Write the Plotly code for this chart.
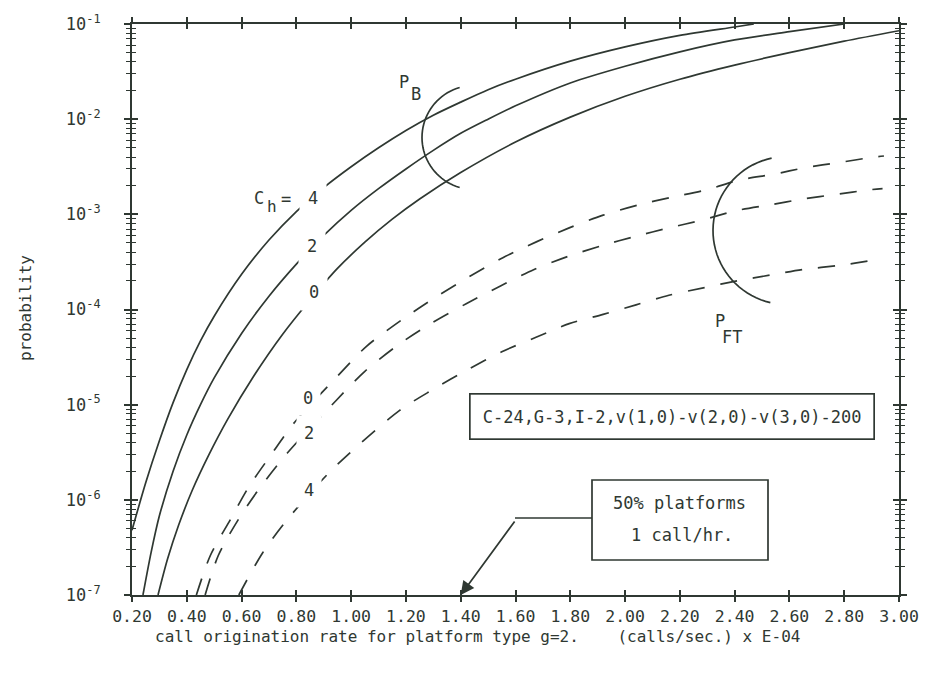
import math
import plotly.graph_objects as go

# ---------------- data ----------------
# Blocking probability P_B (solid), by C_h
pb4_x = [0.20, 0.25, 0.30, 0.35, 0.40, 0.45, 0.50, 0.60, 0.70, 0.80, 0.90, 1.00, 1.10, 1.20,
         1.30, 1.40, 1.50, 1.60, 1.80, 2.00, 2.20, 2.40, 2.47]
pb4_y = [4.8e-7, 1.51e-6, 4.17e-6, 1.05e-5, 2.34e-5, 4.68e-5, 8.5e-5, 2.34e-4, 5.37e-4, 1.07e-3,
         1.91e-3, 3.16e-3, 5.0e-3, 7.6e-3, 1.10e-2, 1.51e-2, 2.04e-2, 2.63e-2, 4.07e-2, 5.75e-2,
         7.6e-2, 9.3e-2, 1.0e-1]

pb2_x = [0.24, 0.27, 0.30, 0.35, 0.40, 0.45, 0.50, 0.60, 0.70, 0.80, 0.90, 1.00, 1.10, 1.20,
         1.30, 1.40, 1.50, 1.60, 1.80, 2.00, 2.20, 2.40, 2.60, 2.80]
pb2_y = [1.0e-7, 2.82e-7, 6.8e-7, 2.0e-6, 4.8e-6, 1.0e-5, 1.91e-5, 5.6e-5, 1.38e-4, 3.0e-4,
         6.0e-4, 1.10e-3, 1.86e-3, 3.0e-3, 4.7e-3, 7.1e-3, 1.0e-2, 1.38e-2, 2.4e-2, 3.6e-2,
         5.1e-2, 6.8e-2, 8.3e-2, 1.0e-1]

pb0_x = [0.295, 0.33, 0.37, 0.42, 0.48, 0.55, 0.64, 0.75, 0.85, 0.95, 1.05, 1.15, 1.25, 1.40,
         1.60, 1.80, 2.00, 2.20, 2.40, 2.60, 2.80, 3.00]
pb0_y = [1.0e-7, 2.4e-7, 5.4e-7, 1.26e-6, 2.95e-6, 7.1e-6, 1.91e-5, 5.5e-5, 1.26e-4, 2.7e-4,
         5.1e-4, 8.9e-4, 1.45e-3, 2.75e-3, 5.75e-3, 1.05e-2, 1.74e-2, 2.63e-2, 3.7e-2, 5.0e-2,
         6.6e-2, 8.5e-2]

# Forced termination probability P_FT (dashed), by C_h
pft0_x = [0.435, 0.486, 0.559, 0.625, 0.712, 0.793, 0.947, 1.056, 1.185, 1.309, 1.43, 1.554, 1.68,
          1.796, 1.92, 2.05, 2.17, 2.30, 2.42, 2.54, 2.66, 2.78, 2.91, 2.945]
pft0_y = [1.0e-7, 2.6e-7, 6.2e-7, 1.35e-6, 3.1e-6, 6.5e-6, 1.95e-5, 4.1e-5, 7.8e-5, 1.35e-4,
          2.2e-4, 3.5e-4, 5.2e-4, 7.2e-4, 9.8e-4, 1.26e-3, 1.51e-3, 1.82e-3, 2.3e-3, 2.63e-3,
          3.1e-3, 3.5e-3, 4.0e-3, 4.1e-3]

pft2_x = [0.467, 0.515, 0.588, 0.668, 0.767, 0.947, 1.05, 1.174, 1.294, 1.42, 1.547, 1.668, 1.79,
          1.917, 2.04, 2.16, 2.28, 2.41, 2.53, 2.65, 2.77, 2.90, 2.94]
pft2_y = [1.0e-7, 2.6e-7, 6.2e-7, 1.35e-6, 3.1e-6, 1.12e-5, 2.24e-5, 4.3e-5, 7.2e-5, 1.15e-4,
          1.78e-4, 2.63e-4, 3.6e-4, 4.7e-4, 5.9e-4, 7.2e-4, 8.7e-4, 1.1e-3, 1.26e-3, 1.45e-3,
          1.62e-3, 1.82e-3, 1.86e-3]

pft4_x = [0.59, 0.676, 0.767, 0.935, 1.177, 1.30, 1.426, 1.55, 1.675, 1.796, 1.92, 2.04, 2.16,
          2.29, 2.41, 2.53, 2.65, 2.78, 2.91, 2.94]
pft4_y = [1.0e-7, 2.75e-7, 6.2e-7, 2.14e-6, 8.7e-6, 1.45e-5, 2.34e-5, 3.6e-5, 5.1e-5, 7.1e-5,
          8.9e-5, 1.12e-4, 1.41e-4, 1.7e-4, 2.0e-4, 2.3e-4, 2.63e-4, 2.9e-4, 3.3e-4, 3.4e-4]

x_ticks = [0.2, 0.4, 0.6, 0.8, 1.0, 1.2, 1.4, 1.6, 1.8, 2.0, 2.2, 2.4, 2.6, 2.8, 3.0]
x_ticktext = ["0.20", "0.40", "0.60", "0.80", "1.00", "1.20", "1.40", "1.60", "1.80",
              "2.00", "2.20", "2.40", "2.60", "2.80", "3.00"]
y_ticks = [1e-7, 1e-6, 1e-5, 1e-4, 1e-3, 1e-2, 1e-1]
y_ticktext = ["10<sup>-7</sup>", "10<sup>-6</sup>", "10<sup>-5</sup>", "10<sup>-4</sup>",
              "10<sup>-3</sup>", "10<sup>-2</sup>", "10<sup>-1</sup>"]
y_minor = [m * 10.0 ** e for e in range(-7, -1) for m in range(2, 10)]

# ---------------- styling ----------------
INK = "#2f3832"
FONT = "DejaVu Sans Mono"
OFF = 8                      # page body margin of the browser
W, H = 927 - OFF, 680 - OFF
ML, MT = 132 - OFF, 24 - OFF
MR = W - (899 - OFF)
MB = H - (595 - OFF)
PW, PH = W - ML - MR, H - MT - MB


def P(px, py):
    """window pixel position -> paper coordinates"""
    return (px - OFF - ML) / PW, (H - MB - (py - OFF)) / PH


def arc(cx, cy, r, a0, a1, n=40):
    pts = []
    for i in range(n + 1):
        a = math.radians(a0 + (a1 - a0) * i / n)
        pts.append(P(cx + r * math.cos(a), cy + r * math.sin(a)))
    return "M " + " L ".join(f"{x:.5f},{y:.5f}" for x, y in pts)


fig = go.Figure()
line_solid = dict(color=INK, width=1.7, shape="spline", smoothing=0.8)
line_dash = dict(color=INK, width=1.7, dash="17px,16px", shape="spline", smoothing=0.8)
for xs, ys in [(pb4_x, pb4_y), (pb2_x, pb2_y), (pb0_x, pb0_y)]:
    fig.add_trace(go.Scatter(x=xs, y=ys, mode="lines", line=line_solid, hoverinfo="skip"))
for xs, ys in [(pft0_x, pft0_y), (pft2_x, pft2_y), (pft4_x, pft4_y)]:
    fig.add_trace(go.Scatter(x=xs, y=ys, mode="lines", line=line_dash, hoverinfo="skip"))
# invisible trace to carry the overlay axes (inner halves of crossing ticks)
fig.add_trace(go.Scatter(x=[None], y=[None], xaxis="x2", yaxis="y2",
                         mode="lines", hoverinfo="skip"))

common_axis = dict(showgrid=False, zeroline=False, showline=True, linecolor=INK,
                   linewidth=2, tickcolor=INK, tickwidth=1.5, automargin=False)

fig.update_layout(
    width=W, height=H, showlegend=False,
    paper_bgcolor="white", plot_bgcolor="white",
    margin=dict(l=ML, r=MR, t=MT, b=MB, autoexpand=False),
    font=dict(family=FONT, color=INK, size=17),
    xaxis=dict(range=[0.2, 3.0], tickmode="array", tickvals=x_ticks, ticktext=x_ticktext,
               ticks="outside", ticklen=5, mirror="ticks",
               tickfont=dict(family=FONT, size=16.5, color=INK), **common_axis),
    yaxis=dict(type="log", range=[-7, -1], tickmode="array", tickvals=y_ticks,
               ticktext=y_ticktext, ticks="outside", ticklen=6, mirror="ticks",
               ticklabelstandoff=20,
               minor=dict(tickmode="array", tickvals=y_minor, ticks="outside",
                          ticklen=4, tickcolor=INK, tickwidth=1.2, showgrid=False),
               tickfont=dict(family=FONT, size=17, color=INK), **common_axis),
    xaxis2=dict(overlaying="x", matches="x", anchor="y", range=[0.2, 3.0],
                tickmode="array", tickvals=x_ticks, ticks="inside", ticklen=5,
                mirror="ticks", showticklabels=False, **common_axis),
    yaxis2=dict(overlaying="y", matches="y", anchor="x", type="log", range=[-7, -1],
                tickmode="array", tickvals=y_ticks, ticks="inside", ticklen=6,
                mirror="ticks", showticklabels=False,
                minor=dict(tickmode="array", tickvals=y_minor, ticks="inside",
                           ticklen=4, tickcolor=INK, tickwidth=1.2, showgrid=False),
                **common_axis),
)

shapes = []
# bracket arcs
shapes.append(dict(type="path", xref="paper", yref="paper",
                   path=arc(474, 137.5, 52, 254, 106), line=dict(color=INK, width=1.7)))
shapes.append(dict(type="path", xref="paper", yref="paper",
                   path=arc(787, 230.5, 74, 258, 103), line=dict(color=INK, width=1.7)))
# box around "50% platforms / 1 call/hr."
bx0, by0 = P(592, 480)
bx1, by1 = P(768, 560)
shapes.append(dict(type="rect", xref="paper", yref="paper", x0=bx0, y0=by0, x1=bx1, y1=by1,
                   line=dict(color=INK, width=1.7), fillcolor="white"))
# horizontal leg of arrow
lx0, ly = P(592, 518)
lx1, _ = P(515, 518)
shapes.append(dict(type="line", xref="paper", yref="paper", x0=lx0, y0=ly, x1=lx1, y1=ly,
                   line=dict(color=INK, width=1.7)))
fig.update_layout(shapes=shapes)

ann = []


def text(px, py, s, size=17, bg=None, pad=1, xanchor="center", border=None, bw=0, angle=0):
    x, y = P(px, py)
    d = dict(x=x, y=y, xref="paper", yref="paper", text=s, showarrow=False,
             xanchor=xanchor, yanchor="middle", textangle=angle,
             font=dict(family=FONT, size=size, color=INK), borderpad=pad)
    if bg:
        d["bgcolor"] = bg
    if border:
        d["bordercolor"] = border
        d["borderwidth"] = bw
    ann.append(d)


# curve labels (white background opens a gap in the curve)
text(259, 198, "C", size=17)
text(272, 206, "h", size=16)
text(286, 199, "=", size=17)
text(313, 198, "4", bg="white", pad=8)
text(312, 246, "2", bg="white", pad=8)
text(314, 292, "0", bg="white", pad=8)
text(308, 398, "0", bg="white", pad=7)
text(309, 433, "2", bg="white", pad=7)
text(309, 490, "4", bg="white", pad=7)
# curve-family labels
text(404, 82, "P", size=17)
text(416, 94, "B", size=17)
text(720, 321, "P", size=17)
text(732, 337, "FT", size=17)
# parameter box
text(672, 417, "C-24,G-3,I-2,v(1,0)-v(2,0)-v(3,0)-200", size=17, bg="white",
     pad=12, border=INK, bw=1.7)
text(679, 503, "50% platforms", size=17)
text(682, 535, "1 call/hr.", size=17)
# axis titles
text(477, 636, "call origination rate for platform type g=2.\u00a0\u00a0\u00a0\u00a0(calls/sec.) x E-04",
     size=16)
text(25, 308, "probability", size=16, angle=-90)
# arrow to x = 1.40
ann.append(dict(x=1.40, y=-7, xref="x", yref="y", text="", showarrow=True,
                ax=55, ay=-75, arrowhead=2, arrowsize=1.6, arrowwidth=1.7,
                arrowcolor=INK, standoff=0))
fig.update_layout(annotations=ann)

fig.write_html("out.html")
